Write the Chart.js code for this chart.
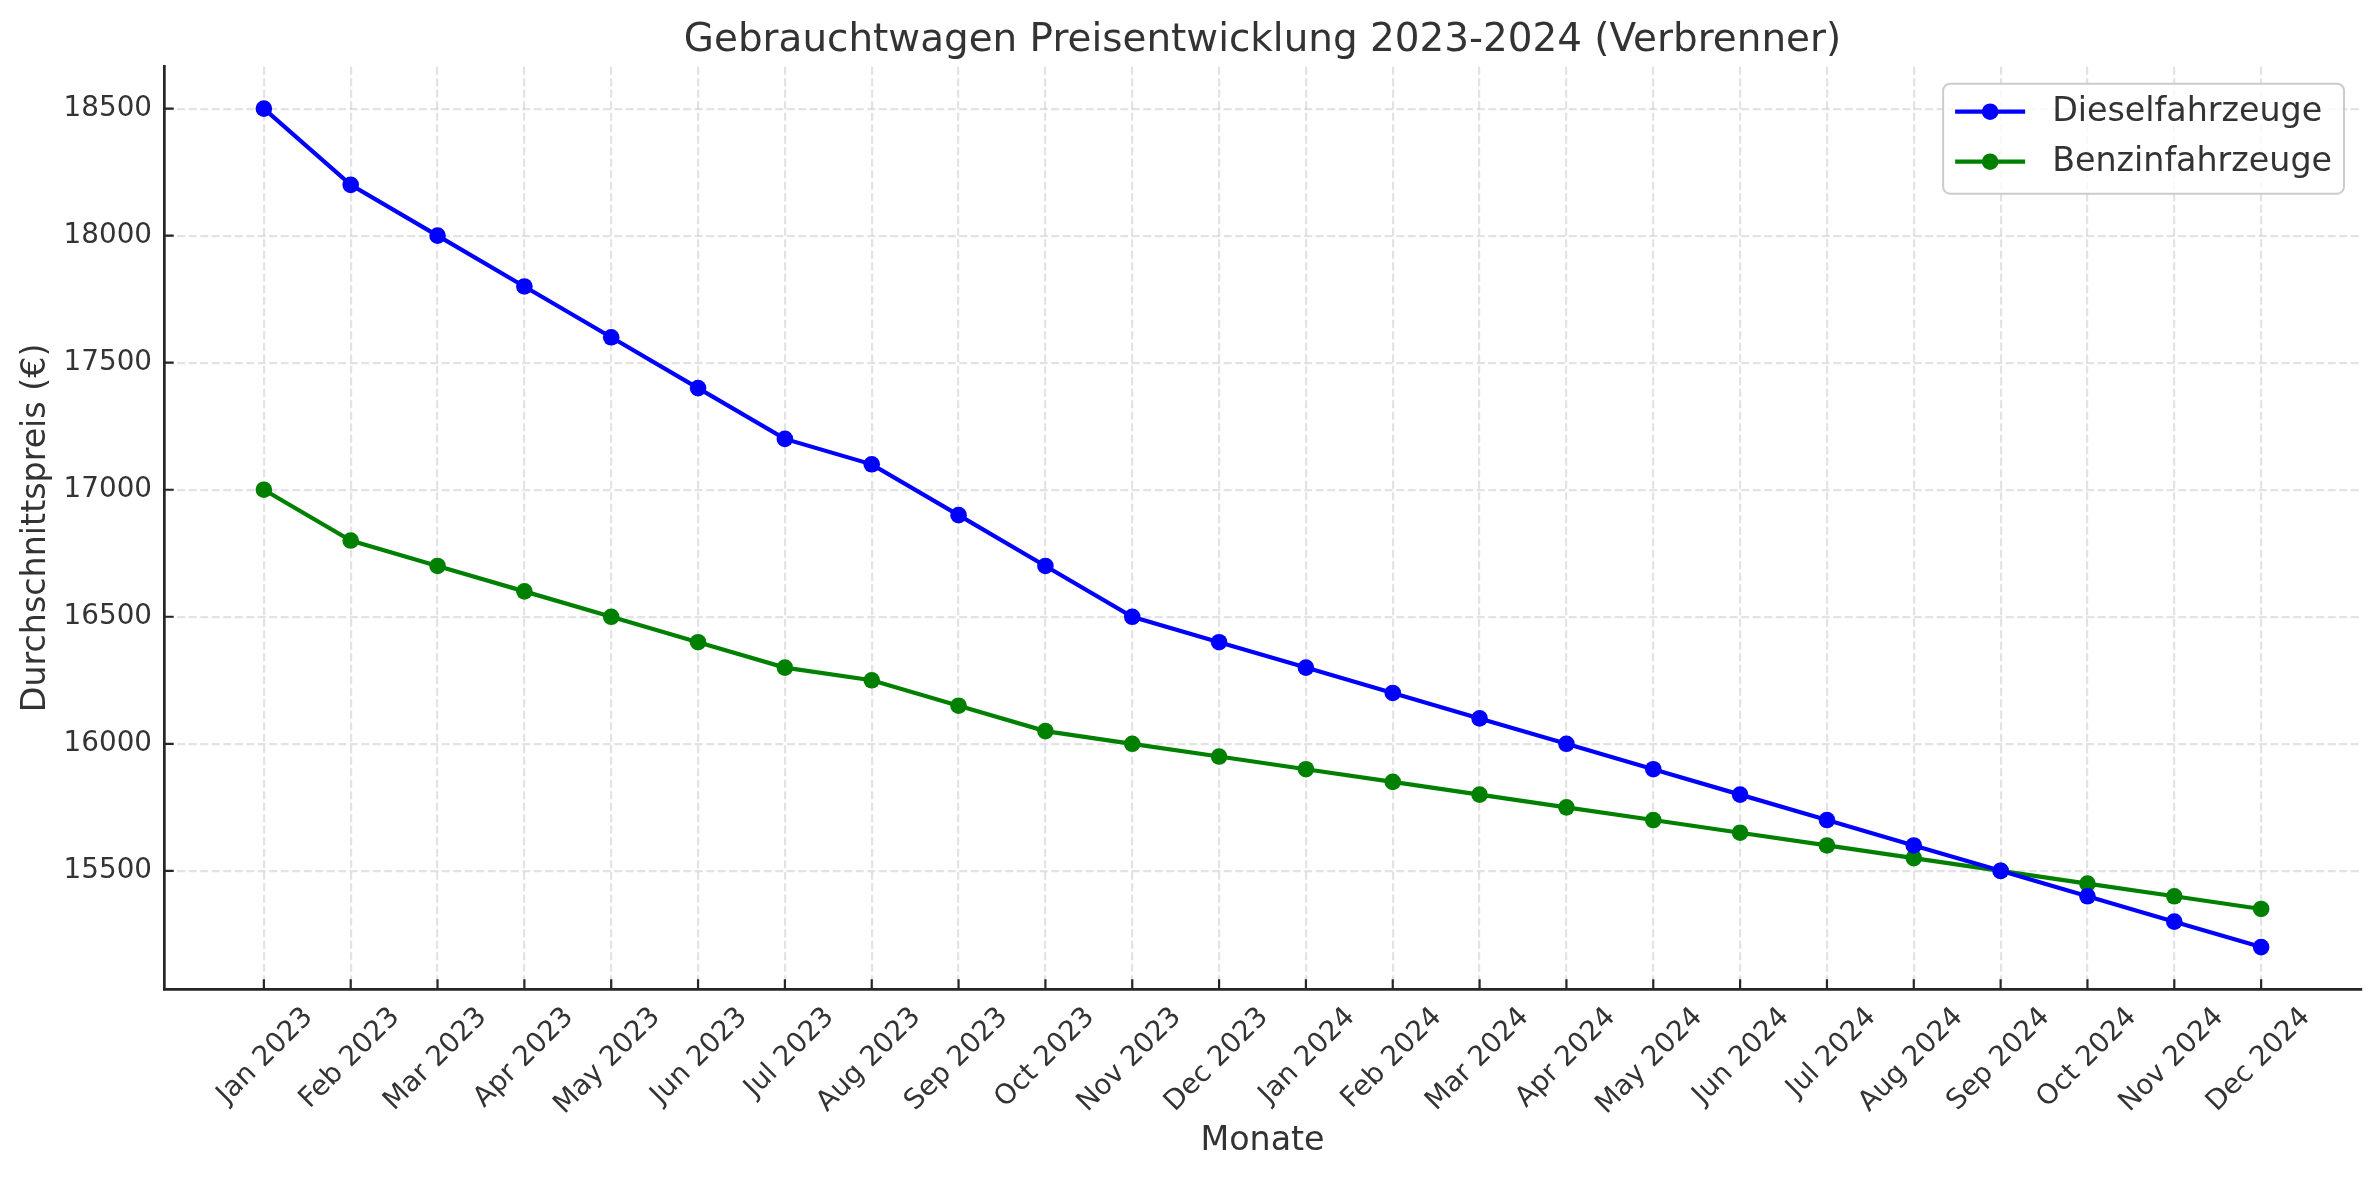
<!DOCTYPE html>
<html lang="de">
<head>
    <meta charset="UTF-8">
    <title>Gebrauchtwagen Preisentwicklung 2023-2024 (Verbrenner)</title>
    <script src="https://cdn.jsdelivr.net/npm/chart.js"></script>
    <style>
        html, body {
            margin: 0;
            padding: 0;
            background: #ffffff;
        }
        .chart-wrap {
            width: 2379px;
            height: 1180px;
            position: relative;
        }
    </style>
</head>
<body>
    <div class="chart-wrap">
        <canvas id="preisChart"></canvas>
    </div>

    <script>
        // Data
        const months = ['Jan 2023', 'Feb 2023', 'Mar 2023', 'Apr 2023', 'May 2023', 'Jun 2023',
                        'Jul 2023', 'Aug 2023', 'Sep 2023', 'Oct 2023', 'Nov 2023', 'Dec 2023',
                        'Jan 2024', 'Feb 2024', 'Mar 2024', 'Apr 2024', 'May 2024', 'Jun 2024',
                        'Jul 2024', 'Aug 2024', 'Sep 2024', 'Oct 2024', 'Nov 2024', 'Dec 2024'];
        const dieselPrices = [18500, 18200, 18000, 17800, 17600, 17400, 17200, 17100, 16900, 16700, 16500, 16400,
                              16300, 16200, 16100, 16000, 15900, 15800, 15700, 15600, 15500, 15400, 15300, 15200];
        const benzinPrices = [17000, 16800, 16700, 16600, 16500, 16400, 16300, 16250, 16150, 16050, 16000, 15950,
                              15900, 15850, 15800, 15750, 15700, 15650, 15600, 15550, 15500, 15450, 15400, 15350];
        const seriesNames = ['Dieselfahrzeuge', 'Benzinfahrzeuge'];
        const yTickValues = [15500, 16000, 16500, 17000, 17500, 18000, 18500];

        const FONT = "'DejaVu Sans', sans-serif";
        const TEXT = '#333333';
        const AXIS = '#262626';
        const GRID = 'rgba(176, 176, 176, 0.35)';
        const TICK_SIZE = 27.8;

        // matplotlib-like 5% margins around the data
        const yMin = Math.min(...dieselPrices, ...benzinPrices);
        const yMax = Math.max(...dieselPrices, ...benzinPrices);
        const yPad = (yMax - yMin) * 0.05;
        const xPad = (months.length - 1) * 0.05;

        // rotated labels are right-aligned by Chart.js, shift them so they sit centred under the tick
        const measureCtx = document.createElement('canvas').getContext('2d');
        measureCtx.font = TICK_SIZE + 'px ' + FONT;
        const avgLabelW = months.reduce((s, m) => s + measureCtx.measureText(m).width, 0) / months.length;
        const labelShift = 0.354 * (avgLabelW - TICK_SIZE * 1.2) + 11;

        // small tick marks pointing into the plot
        const innerTicks = {
            id: 'innerTicks',
            beforeDatasetsDraw(chart) {
                const { ctx, chartArea, scales } = chart;
                ctx.save();
                ctx.strokeStyle = AXIS;
                ctx.lineWidth = 2.2;
                ctx.beginPath();
                scales.x.ticks.forEach((t, i) => {
                    const x = scales.x.getPixelForTick(i);
                    ctx.moveTo(x, chartArea.bottom);
                    ctx.lineTo(x, chartArea.bottom - 9.7);
                });
                scales.y.ticks.forEach((t, i) => {
                    const y = scales.y.getPixelForTick(i);
                    ctx.moveTo(chartArea.left, y);
                    ctx.lineTo(chartArea.left + 9.7, y);
                });
                ctx.stroke();
                ctx.restore();
            }
        };

        // legend box in the upper right corner of the plot
        const boxedLegend = {
            id: 'boxedLegend',
            afterDraw(chart) {
                const { ctx, chartArea } = chart;
                const fs = 33.3;
                ctx.save();
                ctx.font = fs + 'px ' + FONT;
                const textW = Math.max(...chart.data.datasets.map(d => ctx.measureText(d.label).width));
                const w = 109 + textW + 12;
                const h = 110;
                const right = chartArea.right - 17;
                const top = chartArea.top + 17;
                const left = right - w;

                ctx.beginPath();
                ctx.roundRect(left, top, w, h, 7);
                ctx.fillStyle = 'rgba(255, 255, 255, 0.8)';
                ctx.fill();
                ctx.strokeStyle = '#cccccc';
                ctx.lineWidth = 2;
                ctx.stroke();

                chart.data.datasets.forEach((ds, i) => {
                    const y = top + 28 + i * 50;
                    ctx.strokeStyle = ds.borderColor;
                    ctx.lineWidth = ds.borderWidth;
                    ctx.beginPath();
                    ctx.moveTo(left + 12, y);
                    ctx.lineTo(left + 82, y);
                    ctx.stroke();
                    ctx.fillStyle = ds.backgroundColor;
                    ctx.beginPath();
                    ctx.arc(left + 47, y, ds.pointRadius, 0, Math.PI * 2);
                    ctx.fill();
                    ctx.fillStyle = TEXT;
                    ctx.textBaseline = 'middle';
                    ctx.fillText(ds.label, left + 109, y + 1);
                });
                ctx.restore();
            }
        };

        new Chart(document.getElementById('preisChart'), {
            type: 'line',
            data: {
                datasets: [
                    {
                        label: seriesNames[0],
                        data: dieselPrices.map((v, i) => ({ x: i, y: v })),
                        borderColor: '#0000ff',
                        backgroundColor: '#0000ff',
                        borderWidth: 4.2,
                        pointRadius: 8.3,
                        pointHoverRadius: 8.3,
                        pointBorderWidth: 0,
                        tension: 0
                    },
                    {
                        label: seriesNames[1],
                        data: benzinPrices.map((v, i) => ({ x: i, y: v })),
                        borderColor: '#008000',
                        backgroundColor: '#008000',
                        borderWidth: 4.2,
                        pointRadius: 8.3,
                        pointHoverRadius: 8.3,
                        pointBorderWidth: 0,
                        tension: 0
                    }
                ]
            },
            options: {
                responsive: true,
                maintainAspectRatio: false,
                animation: false,
                layout: { padding: { top: 0, left: 12, right: 18, bottom: 15 } },
                plugins: {
                    legend: { display: false },
                    tooltip: { enabled: false },
                    title: {
                        display: true,
                        fullSize: false,
                        text: 'Gebrauchtwagen Preisentwicklung 2023-2024 (Verbrenner)',
                        color: TEXT,
                        font: { family: FONT, size: 38.9, weight: 'normal' },
                        padding: { top: 18, bottom: 2 }
                    }
                },
                scales: {
                    x: {
                        type: 'linear',
                        min: -xPad,
                        max: months.length - 1 + xPad,
                        afterBuildTicks: s => { s.ticks = months.map((m, i) => ({ value: i })); },
                        afterFit: s => { s.height = 176; },
                        grid: { color: GRID, lineWidth: 2.2, drawTicks: false },
                        border: { display: true, color: AXIS, width: 2.7, dash: [8, 3.5] },
                        ticks: {
                            autoSkip: false,
                            minRotation: 45,
                            maxRotation: 45,
                            padding: 12,
                            color: TEXT,
                            font: { family: FONT, size: TICK_SIZE },
                            labelOffset: labelShift,
                            callback: v => months[v]
                        },
                        title: {
                            display: true,
                            text: 'Monate',
                            color: TEXT,
                            font: { family: FONT, size: 33.3 },
                            padding: { top: 4, bottom: 4 }
                        }
                    },
                    y: {
                        min: yMin - yPad,
                        max: yMax + yPad,
                        afterBuildTicks: s => { s.ticks = yTickValues.map(v => ({ value: v })); },
                        afterFit: s => { s.width = 152; },
                        grid: { color: GRID, lineWidth: 2.2, drawTicks: false },
                        border: { display: true, color: AXIS, width: 2.7, dash: [8, 3.5] },
                        ticks: {
                            padding: 12,
                            color: TEXT,
                            font: { family: FONT, size: TICK_SIZE },
                            callback: v => String(v)
                        },
                        title: {
                            display: true,
                            text: 'Durchschnittspreis (€)',
                            color: TEXT,
                            font: { family: FONT, size: 33.3 },
                            padding: { top: 4, bottom: 4 }
                        }
                    }
                }
            },
            plugins: [innerTicks, boxedLegend]
        });
    </script>
</body>
</html>
